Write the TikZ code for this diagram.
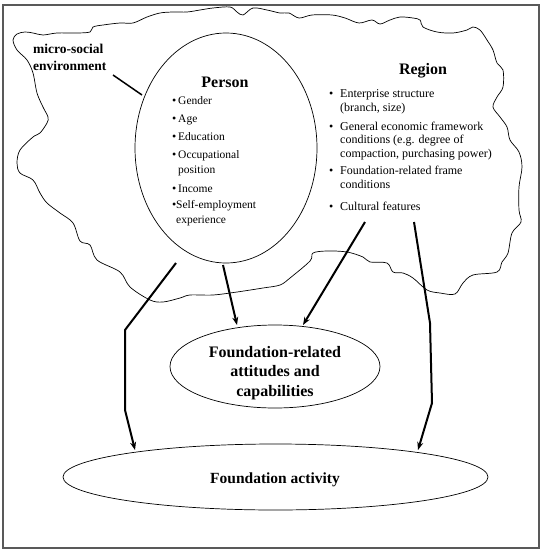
\documentclass[tikz,border=0pt]{standalone}
\usepackage{fontspec}
\setmainfont{Liberation Serif}
\usetikzlibrary{shapes.geometric,arrows.meta}
\newcommand\bdot{{\fontsize{12}{12}\selectfont •}}
\newcommand\pbul{\makebox[6pt][l]{\bdot}}
\newcommand\rbul{\makebox[11pt][l]{\bdot}}
\begin{document}
\begin{tikzpicture}[x=1pt,y=-1pt,
  ptxt/.style={anchor=base west, align=left, inner sep=0pt, font=\fontsize{11.5}{14.5}\selectfont},
  rtxt/.style={anchor=base west, align=left, inner sep=0pt, font=\fontsize{12}{13.5}\selectfont},
  ttl/.style={anchor=base, inner sep=0pt, font=\fontsize{16}{18}\selectfont\bfseries},
  btxt/.style={anchor=base, inner sep=0pt, align=center, font=\fontsize{16}{19.5}\selectfont\bfseries},
  arr/.style={line width=2pt, -{Stealth[length=8pt,width=6pt]}},
  oval/.style={ellipse, draw=black, line width=0.7pt, fill=white, inner sep=0pt}
]
\useasboundingbox (0,0) rectangle (544,552);
\draw[gray!70!black, line width=1.3pt] (3,5) rectangle (539,548);

% cloud (micro-social environment)
\draw[line width=0.7pt] plot[smooth cycle, tension=0.55] coordinates {
 (13,40) (17,34) (25,32) (33,33) (43,35) (57,33) (77,33) (90,32) (93,27) (103,25)
 (120,23) (133,23) (147,17) (160,13) (173,12) (187,12) (200,10) (213,8) (230,7)
 (237,12) (243,15) (253,8) (267,10) (280,13) (289,13) (299,18) (312,15) (332,15)
 (345,18) (359,23) (372,20) (380,24) (390,20) (400,17) (413,18) (420,20) (423,27)
 (437,32) (453,33) (467,30) (473,27) (480,30) (487,40) (493,50) (497,63) (503,70)
 (503,87) (497,97) (493,107) (500,117) (507,127) (510,140) (519,152) (522,167)
 (519,187) (519,210) (521,222) (512,233) (508,253) (502,262) (497,272) (473,275)
 (463,283) (455,294) (440,293) (427,290) (413,278) (403,273) (393,272) (387,263)
 (370,262) (363,257) (347,252) (327,251) (313,253) (310,261) (290,278) (280,285)
 (263,288) (237,292) (213,295) (190,295) (180,298) (163,302) (150,300) (130,287)
 (120,272) (97,260) (90,245) (80,241) (73,223) (60,213) (47,203) (40,193)
 (33,180) (20,173) (17,163) (20,150) (33,137) (40,133) (47,123) (48,117)
 (43,107) (37,93) (33,73) (27,60) (17,50)};

% ellipses
\node[oval, minimum width=182pt, minimum height=230pt] (person) at (226,148) {};
\node[oval, minimum width=210pt, minimum height=83pt] (att) at (275,366.5) {};
\node[oval, minimum width=425pt, minimum height=66pt] (act) at (275.5,477) {};

% micro-social label (base = last line)
\node[anchor=base west, align=left, inner sep=0pt, font=\fontsize{13.5}{17}\selectfont\bfseries] (ms) at (33,70) {micro-social\\environment};
\coordinate (msa) at (113,75);
\coordinate (msb) at (142,95);
\draw[line width=1.5pt] (msa) -- (msb);

% Person
\node[ttl] (pt) at (225,87) {Person};
\node[ptxt] (p1) at (172,104) {\pbul Gender};
\node[ptxt] (p2) at (172,122) {\pbul Age};
\node[ptxt] (p3) at (172,140) {\pbul Education};
\node[ptxt] (p4) at (172,173) {\pbul Occupational\\\hspace*{6pt}position};
\node[ptxt] (p5) at (172,192) {\pbul Income};
\node[ptxt] (p6) at (172,223) {\makebox[4pt][l]{\bdot}Self-employment\\\hspace*{4pt}experience};

% Region
\node[ttl] (rt) at (423,74) {Region};
\node[rtxt] (r1) at (329,111) {\rbul Enterprise structure\\\hspace*{11pt}(branch, size)};
\node[rtxt] (r2) at (329,157) {\rbul General economic framework\\\hspace*{11pt}conditions (e.g. degree of\\\hspace*{11pt}compaction, purchasing power)};
\node[rtxt] (r3) at (329,188) {\rbul Foundation-related frame\\\hspace*{11pt}conditions};
\node[rtxt] (r4) at (329,210) {\rbul Cultural features};

% bottom texts
\node[btxt] (attt) at (275,396) {Foundation-related\\attitudes and\\capabilities};
\node[btxt, font=\fontsize{15.5}{19}\selectfont\bfseries] (actt) at (275,483) {Foundation activity};

% connectors
\coordinate (a1s) at (176,263);
\coordinate (a1b) at (125,330);
\coordinate (a1c) at (125,410);
\coordinate (a1e) at (135,450);
\draw[arr] (a1s) -- (a1b) -- (a1c) -- (a1e);

\coordinate (a2s) at (223,265);
\coordinate (a2e) at (237,325);
\draw[arr] (a2s) -- (a2e);

\coordinate (a3s) at (365,222);
\coordinate (a3e) at (303,325);
\draw[arr] (a3s) -- (a3e);

\coordinate (a4s) at (414,222);
\coordinate (a4b) at (430,323);
\coordinate (a4c) at (432,403);
\coordinate (a4e) at (418,450);
\draw[arr] (a4s) -- (a4b) -- (a4c) -- (a4e);
\end{tikzpicture}
\end{document}
